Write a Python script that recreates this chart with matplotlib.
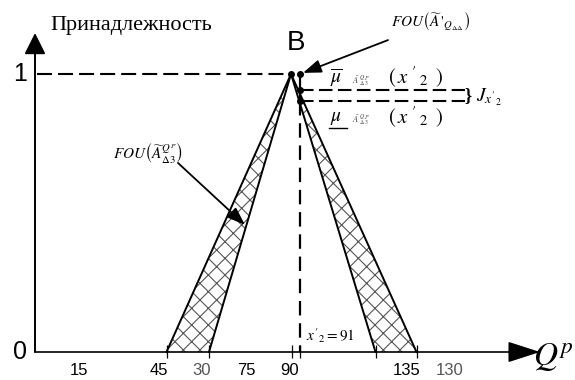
import numpy as np
import matplotlib
matplotlib.use('Agg')
import matplotlib.pyplot as plt

plt.rcParams['mathtext.fontset'] = 'stix'
plt.rcParams['hatch.linewidth'] = 0.8

# shape of the two FOU bands (x in arbitrary axis units, y = membership)
peak_x = 51.2
top_x = 53.0          # x'2 = 91
left_band = [26.3, 34.8]    # outer / inner foot of the left band
right_band = [68.1, 76.3]   # inner / outer foot of the right band
mu_upper = 0.942
mu_lower = 0.903

tick_marks = [26.3, 34.8, 51.4, 53.0, 68.1, 76.3]
label_pos = [8.8, 24.8, 33.3, 42.3, 51.0, 74.3, 83.0]
label_txt = ['15', '45', '30', '75', '90', '135', '130']
label_col = ['k', 'k', '#555555', 'k', 'k', 'k', '#555555']

fig = plt.figure(figsize=(5.75, 3.8), dpi=100)
ax = fig.add_axes([0, 0, 1, 1])
ax.set_xlim(-7, 108)
ax.set_ylim(-28 / 278, 352 / 278)
ax.axis('off')

# axes with arrows
ax.annotate('', xy=(0, 1.1475), xytext=(0, 0),
            arrowprops=dict(arrowstyle='-|>,head_length=1.0,head_width=0.5', mutation_scale=13,
                            lw=1.4, color='k', shrinkA=0, shrinkB=0))
ax.annotate('', xy=(101, 0), xytext=(0, 0),
            arrowprops=dict(arrowstyle='-|>,head_length=1.55,head_width=0.5', mutation_scale=13,
                            lw=1.2, color='k', shrinkA=0, shrinkB=0))

# hatched bands
for a, b in [left_band, right_band]:
    xs = [a, peak_x, b]
    ys = [0, 1, 0]
    ax.fill(xs, ys, facecolor='white', edgecolor='#555555', hatch='xx', lw=0)
    ax.plot([a, peak_x], [0, 1], color='k', lw=1.4)
    ax.plot([b, peak_x], [0, 1], color='k', lw=1.4)

# dashed guides
ax.plot([0.4, peak_x], [1, 1], color='k', lw=1.5, linestyle=(0, (7.2, 2.9)))
ax.plot([top_x, top_x], [1, mu_lower], color='k', lw=1.6)
ax.plot([top_x, top_x], [mu_lower, 0], color='k', lw=1.6, linestyle=(0, (6.5, 3.5)))
for m in [mu_upper, mu_lower]:
    ax.plot([top_x, 86], [m, m], color='k', lw=1.5, linestyle=(0, (6.5, 2.6)))

ax.plot([peak_x, top_x, top_x, top_x], [1, 1, mu_upper, mu_lower], 'o', color='k', ms=4)

ax.vlines(tick_marks, -0.0216, 0.025, color='k', lw=0.9)
for p, t, c in zip(label_pos, label_txt, label_col):
    ax.text(p, -0.068, t, ha='center', va='center', fontsize=12, family='Liberation Sans', color=c)

ax.text(-2.9, 1.0, '1', ha='center', va='center', fontsize=18, family='Liberation Sans')
ax.text(-2.9, 0.0, '0', ha='center', va='center', fontsize=18, family='Liberation Sans')
ax.text(52.2, 1.111, 'B', ha='center', va='center', fontsize=20, family='Liberation Sans')
ax.text(3, 1.176, 'Принадлежность', ha='left', va='center', fontsize=16, family='Liberation Serif')
ax.text(99.6, -0.02, r'$Q^{p}$', ha='left', va='center', fontsize=24)

# FOU labels with arrows
ax.text(79.2, 1.19, r"$FOU\left(\widetilde{A}\,'_{Q_{\Delta\Delta}}\right)$", ha='center', va='center', fontsize=11)
ax.annotate('', xy=(53.6, 1.004), xytext=(70.6, 1.122),
            arrowprops=dict(arrowstyle='-|>,head_length=1.1,head_width=0.4', mutation_scale=10,
                            lw=1.3, color='k', shrinkA=0, shrinkB=0))
ax.text(22.6, 0.719, r"$FOU\left(\widetilde{A}^{Q^P}_{\Delta 3}\right)$", ha='center', va='center', fontsize=11)
ax.annotate('', xy=(42, 0.457), xytext=(28.6, 0.68),
            arrowprops=dict(arrowstyle='-|>,head_length=1.1,head_width=0.4', mutation_scale=10,
                            lw=1.3, color='k', shrinkA=0, shrinkB=0))

# upper / lower membership labels
ax.text(59, 0.986, r'$\overline{\mu}$', ha='left', va='center', fontsize=14)
ax.text(63.4, 0.978, r'$\tilde{A}\;{}^{Q}_{\Delta}{}^{P}_{3}$', ha='left', va='center', fontsize=6, color='#444444')
ax.text(70.6, 0.986, r"$(\,x\;'\,{}_{2}\;\;)$", ha='left', va='center', fontsize=15)
ax.text(59, 0.845, r'$\mu$', ha='left', va='center', fontsize=14)
ax.plot([58.8, 62.4], [0.806, 0.806], color='k', lw=1)
ax.text(63.4, 0.835, r'$\tilde{A}\;{}^{Q}_{\Delta}{}^{P}_{3}$', ha='left', va='center', fontsize=6, color='#444444')
ax.text(70.6, 0.845, r"$(\,x\;'\,{}_{2}\;\;)$", ha='left', va='center', fontsize=15)

ax.text(86.6, 0.924, '}', ha='center', va='center', fontsize=13, fontweight='bold', family='Liberation Serif')
ax.text(88.2, 0.917, r"$J_{x'_{2}}$", ha='left', va='center', fontsize=14)
ax.text(54.2, 0.0576, r"$x'_{2} = 91$", ha='left', va='center', fontsize=11)

fig.savefig('out.png', dpi=100)
